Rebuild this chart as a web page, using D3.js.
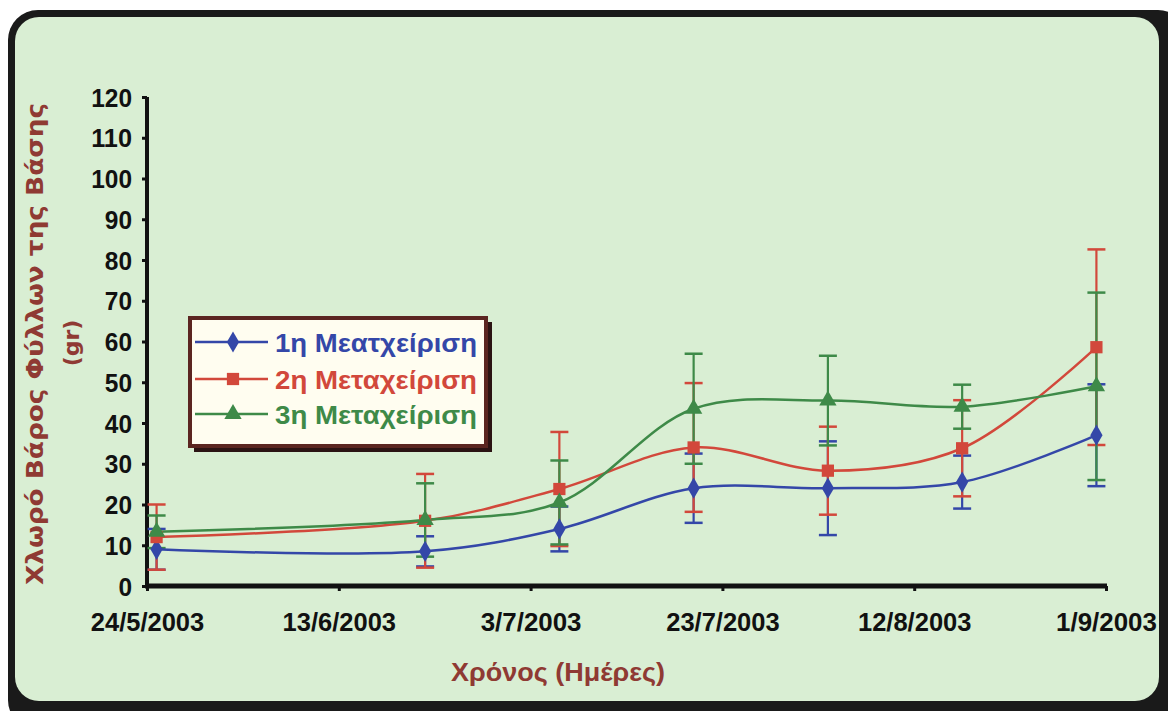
<!DOCTYPE html>
<html>
<head>
<meta charset="utf-8">
<script src="https://cdn.jsdelivr.net/npm/d3@7"></script>
<style>
  html, body { margin: 0; padding: 0; background: #ffffff; }
  svg { display: block; }
</style>
</head>
<body>
<div id="chart"></div>
<script>
// ---- data ----
const dates = ["2003-05-25", "2003-06-22", "2003-07-06", "2003-07-20", "2003-08-03", "2003-08-17", "2003-08-31"];
const seriesNames = ["1η Μεατχείριση", "2η Μεταχείριση", "3η Μεταχείριση"];
const values1 = [9, 8.5, 14, 24, 24, 25.5, 37];
const errors1 = [5, 3.7, 5.5, 8.5, 11.5, 6.5, 12.5];
const values2 = [12, 16, 23.8, 34, 28.3, 33.8, 58.6];
const errors2 = [8, 11.5, 14, 15.8, 10.8, 11.8, 24];
const values3 = [13.3, 16.2, 20.5, 43.5, 45.5, 44, 49];
const errors3 = [4, 9, 10.3, 13.5, 11, 5.4, 23];
const xTickLabels = ["24/5/2003", "13/6/2003", "3/7/2003", "23/7/2003", "12/8/2003", "1/9/2003"];
const yTicks = [0, 10, 20, 30, 40, 50, 60, 70, 80, 90, 100, 110, 120];
const yTitle = ["Χλωρό Βάρος Φύλλων της Βάσης", "(gr)"];
const xTitle = "Χρόνος (Ημέρες)";

const W = 1168, H = 711;
const svg = d3.select("#chart").append("svg").attr("width", W).attr("height", H);

// frame
svg.append("rect").attr("x", 0).attr("y", 0).attr("width", W).attr("height", H).attr("fill", "#ffffff");
svg.append("rect").attr("x", 8).attr("y", 10).attr("width", 1180).attr("height", 720).attr("rx", 30).attr("fill", "#1a1a1a");
svg.append("rect").attr("x", 15).attr("y", 17).attr("width", 1144).attr("height", 684).attr("rx", 24).attr("fill", "#d9eed3");

const parse = d3.timeParse("%Y-%m-%d");
const parseLabel = d3.timeParse("%d/%m/%Y");
const x = d3.scaleTime()
  .domain([parseLabel(xTickLabels[0]), parseLabel(xTickLabels[xTickLabels.length - 1])])
  .range([147, 1106]);
const y = d3.scaleLinear().domain([0, 120]).range([586, 97]);

const font = "'Liberation Sans', Arial, sans-serif";

// axes
const yAxis = d3.axisLeft(y).tickValues(yTicks).tickSize(5).tickPadding(10).tickFormat(d3.format("d"));
const gy = svg.append("g").attr("transform", "translate(147,0)").call(yAxis);
gy.select(".domain").attr("stroke", "#111").attr("stroke-width", 4).attr("d", `M0,${y(120)}V${y(0) + 2}`);
gy.selectAll(".tick line").attr("stroke", "#111").attr("stroke-width", 3);
gy.selectAll(".tick text").attr("font-family", font).attr("font-weight", "bold").attr("font-size", 26).attr("fill", "#111")
  .attr("dy", "0.35em")
  .attr("textLength", d => String(d).length * 13.6).attr("lengthAdjust", "spacingAndGlyphs");

const xAxis = d3.axisBottom(x).tickValues(xTickLabels.map(parseLabel)).tickSize(5).tickPadding(22)
  .tickFormat((d, i) => xTickLabels[i]);
const gx = svg.append("g").attr("transform", `translate(0,${y(0)})`).call(xAxis);
gx.select(".domain").attr("stroke", "#111").attr("stroke-width", 5).attr("d", `M${x.range()[0] - 2},0H${x.range()[1] + 1}`);
gx.selectAll(".tick line").attr("stroke", "#111").attr("stroke-width", 3);
gx.selectAll(".tick text").attr("font-family", font).attr("font-weight", "bold").attr("font-size", 26).attr("fill", "#111")
  .attr("lengthAdjust", "spacingAndGlyphs")
  .attr("textLength", (d, i) => xTickLabels[i].length * 12.6);

// titles
const titleColor = "#8f3a33";
svg.append("text").attr("transform", "translate(35,344) rotate(-90)")
  .attr("text-anchor", "middle").attr("dominant-baseline", "central")
  .attr("font-family", "'DejaVu Sans', Verdana, sans-serif").attr("font-weight", "bold").attr("font-size", 23)
  .attr("fill", titleColor).attr("textLength", 482).attr("lengthAdjust", "spacingAndGlyphs").text(yTitle[0]);
svg.append("text").attr("transform", "translate(71,343) rotate(-90)")
  .attr("text-anchor", "middle").attr("dominant-baseline", "central")
  .attr("font-family", "'DejaVu Sans', Verdana, sans-serif").attr("font-weight", "bold").attr("font-size", 22)
  .attr("fill", titleColor).text(yTitle[1]);
svg.append("text").attr("x", 558).attr("y", 681)
  .attr("text-anchor", "middle")
  .attr("font-family", font).attr("font-weight", "bold").attr("font-size", 26)
  .attr("fill", titleColor).attr("textLength", 214).attr("lengthAdjust", "spacingAndGlyphs").text(xTitle);

// series
const colors = ["#3447a8", "#d2483b", "#3e8a48"];
const series = [
  { name: seriesNames[0], values: values1, errors: errors1, color: colors[0], sym: d3.symbolDiamond, size: 130 },
  { name: seriesNames[1], values: values2, errors: errors2, color: colors[1], sym: d3.symbolSquare, size: 150 },
  { name: seriesNames[2], values: values3, errors: errors3, color: colors[2], sym: d3.symbolTriangle, size: 130 }
];
const pts = s => dates.map((d, i) => ({ x: x(parse(d)), v: s.values[i], e: s.errors[i] }));

const capW = 9;
// error bars
series.forEach(s => {
  const g = svg.append("g");
  pts(s).forEach(p => {
    g.append("line").attr("x1", p.x).attr("x2", p.x).attr("y1", y(p.v - p.e)).attr("y2", y(p.v + p.e))
      .attr("stroke", s.color).attr("stroke-width", 2.2);
    [p.v - p.e, p.v + p.e].forEach(v => {
      g.append("line").attr("x1", p.x - capW).attr("x2", p.x + capW).attr("y1", y(v)).attr("y2", y(v))
        .attr("stroke", s.color).attr("stroke-width", 2.5);
    });
  });
});
// lines
const line = d3.line().x(p => p.x).y(p => y(p.v)).curve(d3.curveCatmullRom.alpha(0.5));
series.forEach(s => {
  svg.append("path").attr("d", line(pts(s))).attr("fill", "none").attr("stroke", s.color).attr("stroke-width", 2.5);
});
// markers
series.forEach(s => {
  const sym = d3.symbol().type(s.sym).size(s.size);
  pts(s).forEach(p => {
    svg.append("path").attr("d", sym()).attr("transform", `translate(${p.x},${y(p.v)})`).attr("fill", s.color);
  });
});

// legend
const lg = svg.append("g");
lg.append("rect").attr("x", 194).attr("y", 322).attr("width", 298).attr("height", 130).attr("fill", "#2b1313");
lg.append("rect").attr("x", 190).attr("y", 318).attr("width", 296).attr("height", 128).attr("fill", "#fffdf0")
  .attr("stroke", "#5b2520").attr("stroke-width", 4);
const rowsY = [342, 379, 414];
series.forEach((s, i) => {
  const yy = rowsY[i];
  lg.append("line").attr("x1", 195).attr("x2", 268).attr("y1", yy).attr("y2", yy).attr("stroke", s.color).attr("stroke-width", 2.5);
  lg.append("path").attr("d", d3.symbol().type(s.sym).size(s.size)()).attr("transform", `translate(233,${yy})`).attr("fill", s.color);
  lg.append("text").attr("x", 275).attr("y", yy + 1).attr("dominant-baseline", "central")
    .attr("font-family", font).attr("font-weight", "bold").attr("font-size", 25)
    .attr("fill", s.color).attr("textLength", 202).attr("lengthAdjust", "spacingAndGlyphs").text(s.name);
});
</script>
</body>
</html>
